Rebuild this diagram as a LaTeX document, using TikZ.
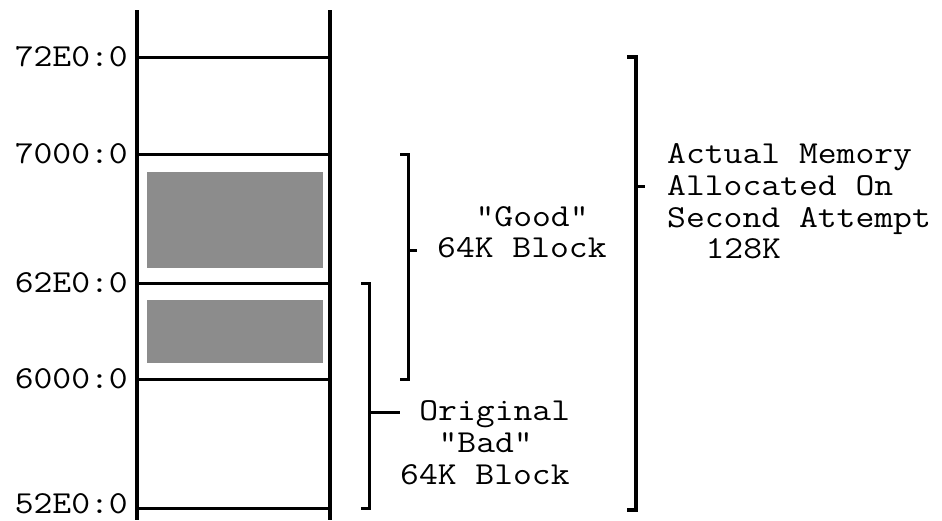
\documentclass[tikz,border=0pt]{standalone}
\usepackage{fontspec}
\setmonofont{Latin Modern Mono}[FakeStretch=1.143]
\begin{document}
\begin{tikzpicture}[x=1pt,y=-1pt,
  lbl/.style={inner sep=0pt,font=\ttfamily\fontsize{32}{32}\selectfont},
  addr/.style={lbl,anchor=base east},
  txt/.style={lbl,anchor=base west},
  wall/.style={line width=3.5pt},
  bound/.style={line width=3pt},
  brk/.style={line width=3pt},
  bigbrk/.style={line width=3.8pt},
  shade/.style={fill=black!45,draw=none}]
\useasboundingbox (0,0) rectangle (942,520);
% column walls
\coordinate (LT) at (137,10); \coordinate (LB) at (137,520);
\coordinate (RT) at (330,10); \coordinate (RB) at (330,520);
\draw[wall] (LT) -- (LB);
\draw[wall] (RT) -- (RB);
% boundaries
\foreach \n/\y in {a/57,b/154,c/283,d/379,e/508}{
  \coordinate (L\n) at (137,\y); \coordinate (R\n) at (330,\y);
  \draw[bound] (L\n) -- (R\n);
}
% shaded areas
\fill[shade] (147,172) rectangle (323,268);
\fill[shade] (147,300) rectangle (323,363);
% address labels
\node[addr] (a72E0) at (128,66) {72E0:0};
\node[addr] (a7000) at (128,163) {7000:0};
\node[addr] (a62E0) at (128,292) {62E0:0};
\node[addr] (a6000) at (128,388) {6000:0};
\node[addr] (a52E0) at (128,513) {52E0:0};
% good bracket
\coordinate (g1) at (400,154); \coordinate (g2) at (408,154);
\coordinate (g3) at (408,379); \coordinate (g4) at (400,379);
\coordinate (gm) at (408,250); \coordinate (gt) at (417,250);
\draw[brk] (g1) -- (g2) -- (g3) -- (g4);
\draw[brk] (gm) -- (gt);
\node[txt] (good1) at (475.4,226) {"Good"};
\node[txt] (good2) at (437,257) {64K Block};
% bad bracket
\coordinate (b1) at (361,283); \coordinate (b2) at (369,283);
\coordinate (b3) at (369,508); \coordinate (b4) at (361,508);
\coordinate (bm) at (369,412); \coordinate (bt) at (400,412);
\draw[brk] (b1) -- (b2) -- (b3) -- (b4);
\draw[brk] (bm) -- (bt);
\node[txt] (bad1) at (419.2,420) {Original};
\node[txt] (bad2) at (438.4,452) {"Bad"};
\node[txt] (bad3) at (400,484) {64K Block};
% big bracket
\coordinate (m1) at (627,57); \coordinate (m2) at (636,57);
\coordinate (m3) at (636,510); \coordinate (m4) at (627,510);
\coordinate (mm) at (636,186); \coordinate (mt) at (645,186);
\draw[bigbrk] (m1) -- (m2) -- (m3) -- (m4);
\draw[brk] (mm) -- (mt);
\node[txt] (act1) at (667,163) {Actual Memory};
\node[txt] (act2) at (667,195) {Allocated On};
\node[txt] (act3) at (667,227) {Second Attempt};
\node[txt] (act4) at (705.4,258) {128K};
\end{tikzpicture}
\end{document}
